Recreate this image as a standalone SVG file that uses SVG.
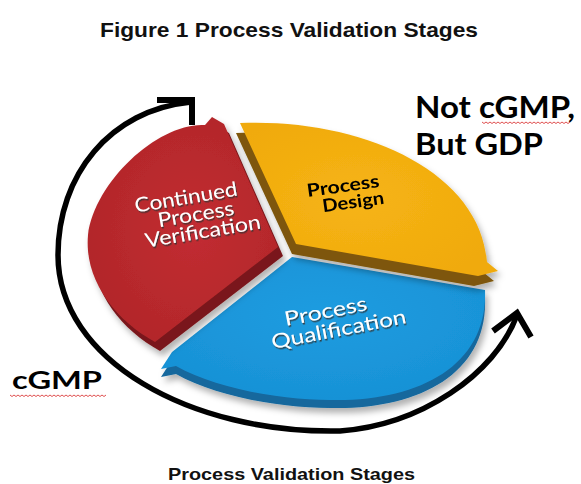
<svg xmlns="http://www.w3.org/2000/svg" width="581" height="484" viewBox="0 0 581 484">
<defs>
<style>
.ttl{font-family:"Liberation Sans",Arial,sans-serif;font-weight:700;fill:#111}
.big{font-family:Lato,"Liberation Sans",sans-serif;font-weight:700;fill:#000}
.lblw{font-family:Lato,"Liberation Sans",sans-serif;font-size:20px;fill:#fff;text-anchor:middle}
.lblk{font-family:Lato,"Liberation Sans",sans-serif;font-weight:700;font-size:18px;fill:#000;text-anchor:middle}
.cyc{fill:none;stroke:#000;stroke-width:5.5;stroke-linecap:round}
.chev{fill:none;stroke:#000;stroke-width:6;stroke-linejoin:miter;stroke-linecap:butt}
.squig{fill:none;stroke:#e05050;stroke-width:1}
</style>
<radialGradient id="gRed" cx="0.55" cy="0.5" r="0.6"><stop offset="0" stop-color="#c22d31"/><stop offset="1" stop-color="#b1262a"/></radialGradient>
<radialGradient id="gYel" cx="0.45" cy="0.5" r="0.6"><stop offset="0" stop-color="#f6b414"/><stop offset="1" stop-color="#f0aa0e"/></radialGradient>
<radialGradient id="gBlu" cx="0.5" cy="0.4" r="0.6"><stop offset="0" stop-color="#1e9ce0"/><stop offset="1" stop-color="#1892d6"/></radialGradient>
<filter id="sh" x="-20%" y="-20%" width="140%" height="150%"><feDropShadow dx="3" dy="5" stdDeviation="3" flood-color="#000" flood-opacity="0.3"/></filter>
<filter id="tsh" x="-10%" y="-30%" width="120%" height="160%"><feDropShadow dx="1" dy="1.5" stdDeviation="0.7" flood-color="#333" flood-opacity="0.85"/></filter>
</defs>
<rect width="581" height="484" fill="#fff"/>

<g id="title"><text class="ttl" x="100" y="37" font-size="21" textLength="378" lengthAdjust="spacingAndGlyphs">Figure 1 Process Validation Stages</text></g>

<g id="slice-qualification" filter="url(#sh)">
<path transform="translate(0,8)" fill="#13679d" d="M292,257 L485,290 C488,365 420,402 330,400 C280,400 215,388 176,366 L161,369 L172,352 Z"/>
<path fill="url(#gBlu)" d="M292,257 L485,290 C488,365 420,402 330,400 C280,400 215,388 176,366 L161,369 L172,352 Z"/>
<g filter="url(#tsh)">
<text class="lblw" transform="rotate(-11 327 318)" x="327" y="318" textLength="84" lengthAdjust="spacingAndGlyphs">Process</text>
<text class="lblw" transform="rotate(-11 340 336)" x="340" y="336" textLength="137" lengthAdjust="spacingAndGlyphs">Qualification</text>
</g>
</g>

<g id="slice-design" filter="url(#sh)">
<path transform="translate(-4,10)" fill="#7e5709" d="M296,244 L240,123 C360,118 480,170 487,262 L498,271 L478,276 Z"/>
<path fill="url(#gYel)" d="M296,244 L240,123 C360,118 480,170 487,262 L498,271 L478,276 Z"/>
<text class="lblk" transform="rotate(-8 344 192)" x="344" y="192" textLength="73" lengthAdjust="spacingAndGlyphs">Process</text>
<text class="lblk" transform="rotate(-8 354 208)" x="354" y="208" textLength="62" lengthAdjust="spacingAndGlyphs">Design</text>
</g>

<g id="slice-verification" filter="url(#sh)">
<path transform="translate(5,9)" fill="#7a181b" d="M278,247 L224,124 L212,117 L205,125 C160,122 95,180 88,235 C84,280 115,320 155,342 Z"/>
<path fill="url(#gRed)" d="M278,247 L224,124 L212,117 L205,125 C160,122 95,180 88,235 C84,280 115,320 155,342 Z"/>
<g filter="url(#tsh)">
<text class="lblw" transform="rotate(-9.5 187 204)" x="187" y="204" textLength="104" lengthAdjust="spacingAndGlyphs">Continued</text>
<text class="lblw" transform="rotate(-9.5 197 221)" x="197" y="221" textLength="77" lengthAdjust="spacingAndGlyphs">Process</text>
<text class="lblw" transform="rotate(-9.5 204 238)" x="204" y="238" textLength="117" lengthAdjust="spacingAndGlyphs">Verification</text>
</g>
</g>

<g id="connectors">
<path class="cyc" d="M191,102 C110,110 58,175 58,255 C58,360 190,434 340,431 C420,425 495,375 517,315"/>
<polyline class="chev" points="157,100 192,100 192,125"/>
<polyline class="chev" points="493,331 517,313 531,337"/>
</g>

<g id="label-not-cgmp">
<text class="big" x="415" y="118" font-size="30" textLength="160" lengthAdjust="spacingAndGlyphs">Not cGMP,</text>
<text class="big" x="415" y="155" font-size="30" textLength="128" lengthAdjust="spacingAndGlyphs">But GDP</text>
<path class="squig" d="M482,122 l2,1.5 2,-1.5 2,1.5 2,-1.5 2,1.5 2,-1.5 2,1.5 2,-1.5 2,1.5 2,-1.5 2,1.5 2,-1.5 2,1.5 2,-1.5 2,1.5 2,-1.5 2,1.5 2,-1.5 2,1.5 2,-1.5 2,1.5 2,-1.5 2,1.5 2,-1.5 2,1.5 2,-1.5 2,1.5 2,-1.5 2,1.5 2,-1.5 2,1.5 2,-1.5 2,1.5 2,-1.5 2,1.5 2,-1.5 2,1.5 2,-1.5 2,1.5 2,-1.5 2,1.5 2,-1.5 2,1.5 2,-1.5"/>
</g>

<g id="label-cgmp">
<text class="big" x="12" y="389" font-size="24" textLength="90" lengthAdjust="spacingAndGlyphs">cGMP</text>
<path class="squig" d="M10,395 l2,1.5 2,-1.5 2,1.5 2,-1.5 2,1.5 2,-1.5 2,1.5 2,-1.5 2,1.5 2,-1.5 2,1.5 2,-1.5 2,1.5 2,-1.5 2,1.5 2,-1.5 2,1.5 2,-1.5 2,1.5 2,-1.5 2,1.5 2,-1.5 2,1.5 2,-1.5 2,1.5 2,-1.5 2,1.5 2,-1.5 2,1.5 2,-1.5 2,1.5 2,-1.5 2,1.5 2,-1.5 2,1.5 2,-1.5 2,1.5 2,-1.5 2,1.5 2,-1.5 2,1.5 2,-1.5 2,1.5 2,-1.5 2,1.5 2,-1.5 2,1.5 2,-1.5"/>
</g>

<g id="caption"><text class="ttl" x="168" y="480" font-size="17" textLength="247" lengthAdjust="spacingAndGlyphs">Process Validation Stages</text></g>
</svg>
